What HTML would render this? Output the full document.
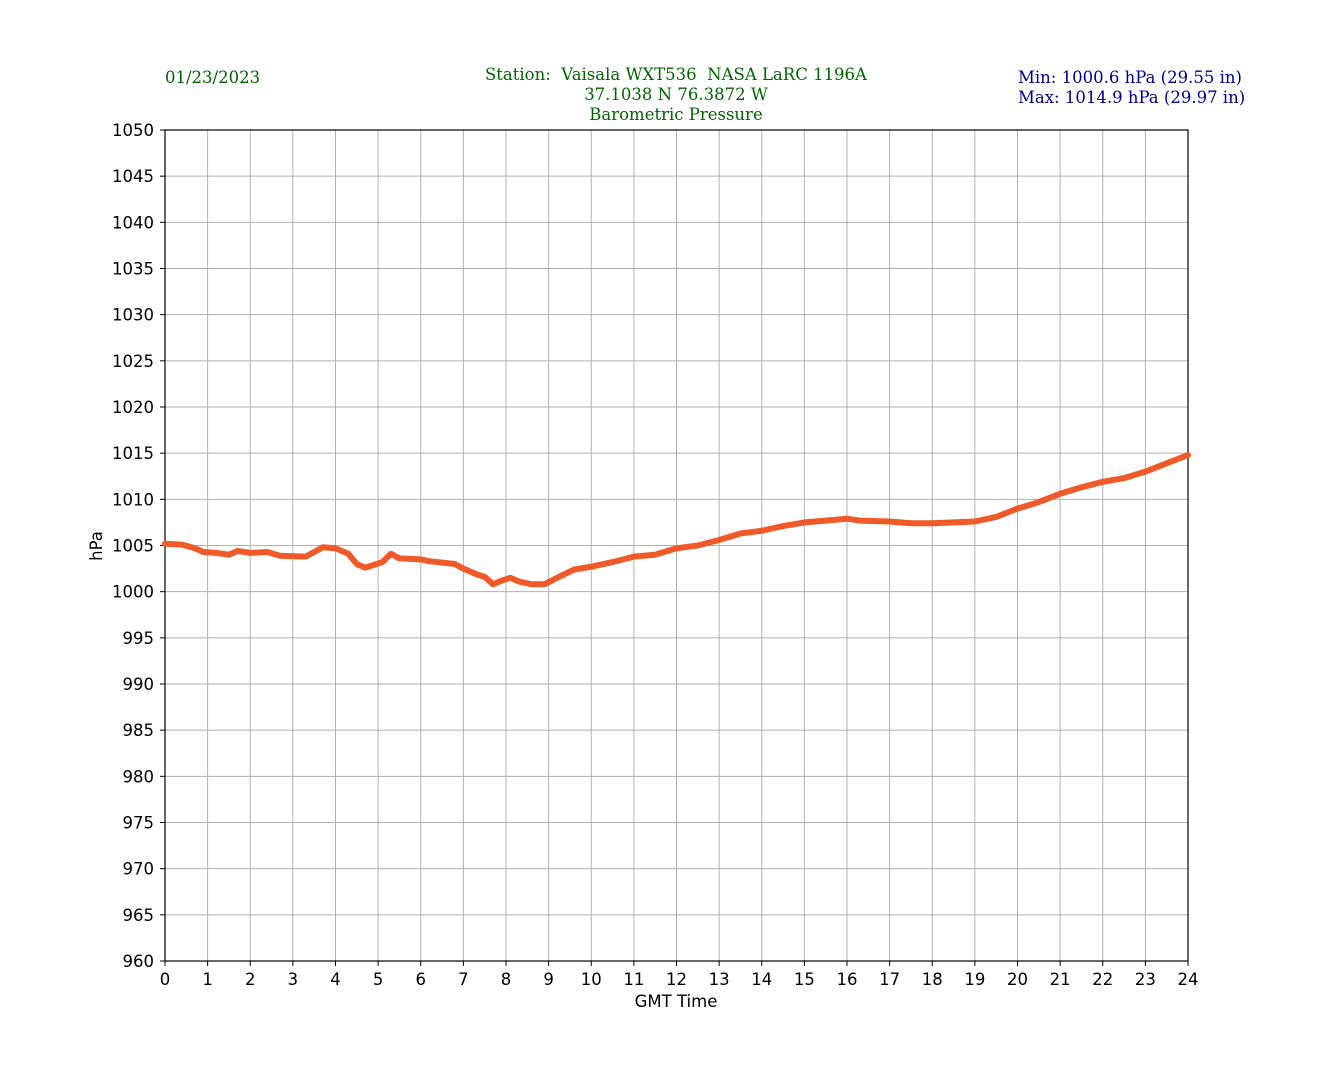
<!DOCTYPE html>
<html><head><meta charset="utf-8"><style>
html,body{margin:0;padding:0;background:#fff;}
svg{display:block;}
text{font-family:"DejaVu Sans","Liberation Sans",sans-serif;}
.serif{font-family:"DejaVu Serif","Liberation Serif",serif;white-space:pre;}
</style></head><body>
<svg id="s" width="1320" height="1080" xmlns="http://www.w3.org/2000/svg" xml:space="preserve">
<text class="serif" x="165" y="83" font-size="16.5" fill="#006400">01/23/2023</text>
<text class="serif" x="676" y="80" font-size="16.5" fill="#006400" text-anchor="middle">Station:  Vaisala WXT536  NASA LaRC 1196A</text>
<text class="serif" x="676" y="100" font-size="16.5" fill="#006400" text-anchor="middle">37.1038 N 76.3872 W</text>
<text class="serif" x="676" y="120" font-size="16.5" fill="#006400" text-anchor="middle">Barometric Pressure</text>
<text class="serif" x="1018" y="83" font-size="16.5" fill="#00008b">Min: 1000.6 hPa (29.55 in)</text>
<text class="serif" x="1018" y="103" font-size="16.5" fill="#00008b">Max: 1014.9 hPa (29.97 in)</text>
<g id="grid"></g>
<rect x="165" y="130" width="1023" height="831" fill="none" stroke="#000" stroke-width="1.2"/>
<text x="676" y="1007" font-size="16.5" text-anchor="middle">GMT Time</text>
<text x="102" y="546" font-size="16.5" text-anchor="middle" transform="rotate(-90 102 546)">hPa</text>
<polyline id="line" fill="none" stroke="#f05a28" stroke-width="6" stroke-linejoin="round" stroke-linecap="round"/>
</svg>
<script>
var X=function(h){return 165+h*1023/24;},Y=function(p){return 130+(1050-p)*831/90;};
var g=document.getElementById('grid'),s='';
for(var h=0;h<=24;h++){var x=X(h);s+='<line x1="'+x+'" y1="130" x2="'+x+'" y2="961" stroke="#b0b0b0" stroke-width="1"/><line x1="'+x+'" y1="961" x2="'+x+'" y2="966" stroke="#000"/><text x="'+x+'" y="985" font-size="16.5" text-anchor="middle">'+h+'</text>';}
for(var p=960;p<=1050;p+=5){var y=Y(p);s+='<line x1="165" y1="'+y+'" x2="1188" y2="'+y+'" stroke="#b0b0b0" stroke-width="1"/><line x1="160" y1="'+y+'" x2="165" y2="'+y+'" stroke="#000"/><text x="154" y="'+(y+6)+'" font-size="16.5" text-anchor="end">'+p+'</text>';}
g.innerHTML=s;
var d=[[0,1005.2],[0.4,1005.1],[0.7,1004.7],[0.9,1004.3],[1.2,1004.2],[1.5,1004.0],[1.7,1004.4],[2,1004.2],[2.4,1004.3],[2.7,1003.9],[3.3,1003.8],[3.5,1004.3],[3.7,1004.8],[4,1004.7],[4.3,1004.1],[4.5,1003.0],[4.7,1002.6],[4.9,1002.9],[5.1,1003.2],[5.3,1004.1],[5.5,1003.6],[6,1003.5],[6.2,1003.3],[6.8,1003.0],[7,1002.5],[7.3,1001.9],[7.5,1001.6],[7.7,1000.8],[7.9,1001.2],[8.1,1001.5],[8.3,1001.1],[8.6,1000.8],[8.9,1000.8],[9.2,1001.5],[9.6,1002.4],[10,1002.7],[10.5,1003.2],[11,1003.8],[11.5,1004.0],[12,1004.7],[12.5,1005.0],[13,1005.6],[13.5,1006.3],[14,1006.6],[14.5,1007.1],[15,1007.5],[15.5,1007.7],[16,1007.9],[16.3,1007.7],[17,1007.6],[17.5,1007.4],[18,1007.4],[18.5,1007.5],[19,1007.6],[19.5,1008.1],[20,1009.0],[20.5,1009.7],[21,1010.6],[21.5,1011.3],[22,1011.9],[22.5,1012.3],[23,1013.0],[23.5,1013.9],[24,1014.8]];
document.getElementById('line').setAttribute('points',d.map(function(q){return X(q[0]).toFixed(1)+','+Y(q[1]).toFixed(1);}).join(' '));
</script>
</body></html>
